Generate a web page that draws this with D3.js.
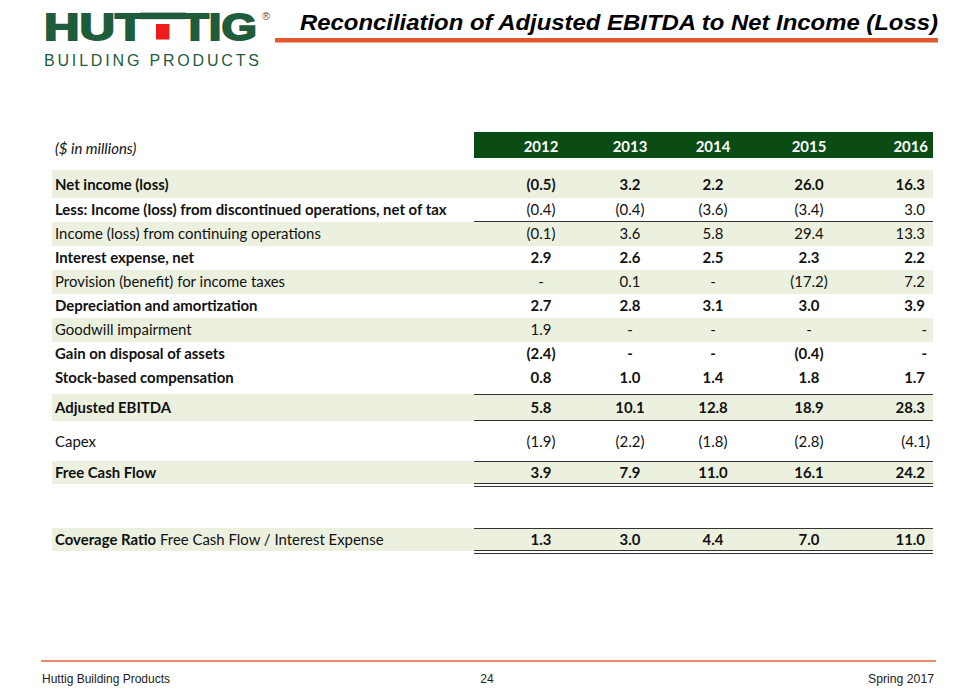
<!DOCTYPE html>
<html>
<head>
<meta charset="utf-8">
<script src="https://cdn.jsdelivr.net/npm/d3@7/dist/d3.min.js"></script>
<style>
html,body{margin:0;padding:0;background:#fff;}
svg{display:block;}
</style>
</head>
<body>
<div id="chart"></div>
<script>
// ---------------- DATA ----------------
const years = ["2012", "2013", "2014", "2015", "2016"];
const rowLabels = [
  "Net income (loss)",
  "Less: Income (loss) from discontinued operations, net of tax",
  "Income (loss) from continuing operations",
  "Interest expense, net",
  "Provision (benefit) for income taxes",
  "Depreciation and amortization",
  "Goodwill impairment",
  "Gain on disposal of assets",
  "Stock-based compensation",
  "Adjusted EBITDA",
  "Capex",
  "Free Cash Flow",
  "Coverage Ratio"
];
const coverageSubLabel = " Free Cash Flow / Interest Expense";
const netIncome     = [-0.5, 3.2, 2.2, 26.0, 16.3];
const discontinued  = [-0.4, -0.4, -3.6, -3.4, 3.0];
const continuing    = [-0.1, 3.6, 5.8, 29.4, 13.3];
const interestExp   = [2.9, 2.6, 2.5, 2.3, 2.2];
const incomeTaxes   = [null, 0.1, null, -17.2, 7.2];
const depreciation  = [2.7, 2.8, 3.1, 3.0, 3.9];
const goodwill      = [1.9, null, null, null, null];
const gainDisposal  = [-2.4, null, null, -0.4, null];
const stockComp     = [0.8, 1.0, 1.4, 1.8, 1.7];
const adjEbitda     = [5.8, 10.1, 12.8, 18.9, 28.3];
const capex         = [-1.9, -2.2, -1.8, -2.8, -4.1];
const freeCashFlow  = [3.9, 7.9, 11.0, 16.1, 24.2];
const coverageRatio = [1.3, 3.0, 4.4, 7.0, 11.0];
const rowValues = [netIncome, discontinued, continuing, interestExp, incomeTaxes,
  depreciation, goodwill, gainDisposal, stockComp, adjEbitda, capex, freeCashFlow, coverageRatio];

// ---------------- LAYOUT / STYLE ----------------
const W = 970, H = 696;
const rowTop    = [170, 198, 222, 246, 270, 294, 318, 342, 366, 394, 421, 461, 528];
const rowHeight = [28, 24, 24, 24, 24, 24, 24, 24, 24, 27, 40, 23, 23];
const rowBase   = [190, 215, 239, 263, 287, 311, 335, 359, 383, 413, 447, 478, 545];
const shaded    = [1,0,1,0,1,0,1,0,0,1,0,1,1];
const boldLabel = [1,1,0,1,0,1,0,1,1,1,0,1,1];
const boldValue = [1,0,0,1,0,1,0,1,1,1,0,1,1];
const colCenters = [541, 630, 713, 809, 925];

const FONT = "Lato, 'Open Sans', 'DejaVu Sans', sans-serif";
const ARIAL = "'Liberation Sans', Arial, sans-serif";
const TXT = "#111";
const SHADE = "#EBF0DF";
const HEAD = "#0B4B14";
const LOGO = "#1F5C3C";
const ORANGE = "#E4572B";

const svg = d3.select("#chart").append("svg").attr("width", W).attr("height", H);

// font size calibrated so longest label matches reference width
const probe = svg.append("text").attr("font-family", FONT).attr("font-weight", 700)
  .attr("font-size", 15).text(rowLabels[1]);
const pw = probe.node().getComputedTextLength();
probe.remove();
const FS = Math.max(12, Math.min(17, 15 * 392 / pw));

// ---------------- SCALES ----------------
const x = d3.scaleOrdinal().domain(years).range(colCenters);
const rowIdx = d3.range(rowLabels.length);
const yTop = d3.scaleOrdinal().domain(rowIdx).range(rowTop);
const yBase = d3.scaleOrdinal().domain(rowIdx).range(rowBase);

const fmt = d3.format(".1f");
const fmtVal = v => v == null ? "-" : (v < 0 ? "(" + fmt(-v) + ")" : fmt(v));

// ---------------- LOGO ----------------
const logo = svg.append("g");
const logoWord = (txt, x0, len) => logo.append("text")
  .attr("x", x0).attr("y", 39.5)
  .attr("font-family", ARIAL).attr("font-weight", 700).attr("font-size", 36.5)
  .attr("textLength", len).attr("lengthAdjust", "spacingAndGlyphs")
  .attr("fill", LOGO).attr("stroke", LOGO).attr("stroke-width", 1.8)
  .text(txt);
logoWord("HUT", 44, 101);
logoWord("TIG", 181, 76);
// continuous lintel joining the two T's, with the red door beneath
logo.append("rect").attr("x", 140).attr("y", 12.6).attr("width", 46).attr("height", 6.6).attr("fill", LOGO);
logo.append("rect").attr("x", 156).attr("y", 24).attr("width", 13.5).attr("height", 15.5).attr("fill", "#EE1C1C");
logo.append("text")
  .attr("x", 44).attr("y", 66)
  .attr("font-family", ARIAL).attr("font-size", 16)
  .attr("textLength", 215).attr("lengthAdjust", "spacing")
  .attr("fill", LOGO).text("BUILDING PRODUCTS");
logo.append("text").attr("x", 262).attr("y", 20)
  .attr("font-family", ARIAL).attr("font-size", 11).attr("fill", "#555").text("®");

// ---------------- TITLE ----------------
svg.append("text")
  .attr("x", 300).attr("y", 30)
  .attr("font-family", ARIAL).attr("font-weight", 700).attr("font-style", "italic")
  .attr("font-size", 22).attr("textLength", 638).attr("lengthAdjust", "spacingAndGlyphs")
  .attr("fill", "#000").text("Reconciliation of Adjusted EBITDA to Net Income (Loss)");
svg.append("rect").attr("x", 275).attr("y", 38).attr("width", 663).attr("height", 4.5).attr("fill", ORANGE);

// ---------------- TABLE ----------------
const tableL = 52, tableR = 933, valL = 474;

// header
svg.append("rect").attr("x", valL).attr("y", 132).attr("width", tableR - valL).attr("height", 26).attr("fill", HEAD);
svg.append("text").attr("x", 55).attr("y", 154)
  .attr("font-family", FONT).attr("font-style", "italic").attr("font-size", FS)
  .attr("fill", TXT).text("($ in millions)");
svg.append("g").selectAll("text").data(years).join("text")
  .attr("x", (d, i) => i === years.length - 1 ? 928 : x(d))
  .attr("y", 152)
  .attr("text-anchor", (d, i) => i === years.length - 1 ? "end" : "middle")
  .attr("font-family", FONT).attr("font-weight", 700).attr("font-size", FS)
  .attr("fill", "#fff").text(d => d);

// row shading
svg.append("g").selectAll("rect").data(rowIdx.filter(i => shaded[i])).join("rect")
  .attr("x", tableL).attr("width", tableR - tableL)
  .attr("y", i => yTop(i)).attr("height", i => rowHeight[i])
  .attr("fill", SHADE);

// labels
const lab = svg.append("g").selectAll("text").data(rowIdx).join("text")
  .attr("x", 55).attr("y", i => yBase(i))
  .attr("font-family", FONT).attr("font-size", FS).attr("fill", TXT)
  .attr("font-weight", i => boldLabel[i] ? 700 : 400);
lab.append("tspan").text(i => rowLabels[i]);
lab.filter(i => i === rowLabels.length - 1).append("tspan")
  .attr("font-weight", 400).text(coverageSubLabel);

// values
const cells = [];
rowIdx.forEach(i => rowValues[i].forEach((v, j) => cells.push({ i, j, v })));
svg.append("g").selectAll("text").data(cells).join("text")
  .attr("x", d => {
    if (d.j < years.length - 1) return x(years[d.j]);
    return d.v != null && d.v < 0 ? x(years[d.j]) + 5 : x(years[d.j]) + (d.v == null ? 2 : 0);
  })
  .attr("y", d => yBase(d.i))
  .attr("text-anchor", d => d.j < years.length - 1 ? "middle" : "end")
  .attr("font-family", FONT).attr("font-size", FS).attr("fill", TXT)
  .attr("font-weight", d => boldValue[d.i] ? 700 : 400)
  .text(d => fmtVal(d.v));

// rules
const rules = [221.5, 394.5, 420.5, 461.5, 483.5, 486.5, 528.5, 550.5, 553.5];
svg.append("g").selectAll("line").data(rules).join("line")
  .attr("x1", valL).attr("x2", tableR).attr("y1", d => d).attr("y2", d => d)
  .attr("stroke", "#333").attr("stroke-width", 1);

// ---------------- FOOTER ----------------
svg.append("line").attr("x1", 41).attr("x2", 936).attr("y1", 661).attr("y2", 661)
  .attr("stroke", "#E2643A").attr("stroke-width", 1.5);
svg.append("text").attr("x", 42).attr("y", 683)
  .attr("font-family", ARIAL).attr("font-size", 12).attr("fill", "#222")
  .attr("textLength", 128).attr("lengthAdjust", "spacingAndGlyphs").text("Huttig Building Products");
svg.append("text").attr("x", 487).attr("y", 683).attr("text-anchor", "middle")
  .attr("font-family", ARIAL).attr("font-size", 12).attr("fill", "#222").text("24");
svg.append("text").attr("x", 934).attr("y", 683).attr("text-anchor", "end")
  .attr("font-family", ARIAL).attr("font-size", 12).attr("fill", "#222")
  .attr("textLength", 66).attr("lengthAdjust", "spacingAndGlyphs").text("Spring 2017");
</script>
</body>
</html>
